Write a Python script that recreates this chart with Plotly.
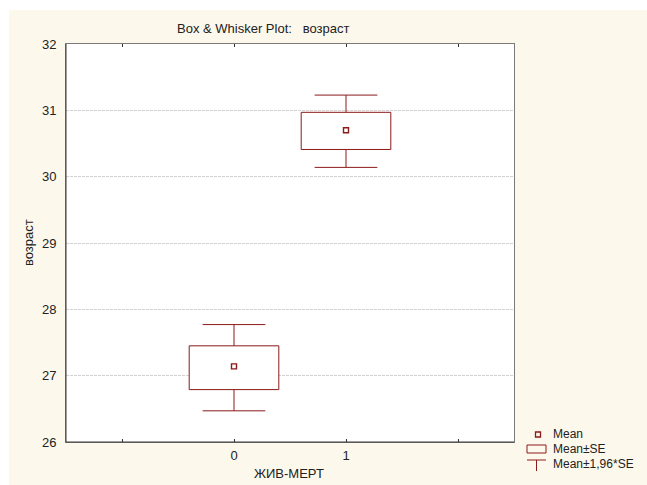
import plotly.graph_objects as go

# ---- data ----
categories = [0, 1]
means = [27.14, 30.70]
se_low = [26.79, 30.41]
se_high = [27.45, 30.97]
ci_low = [26.47, 30.14]
ci_high = [27.77, 31.23]
y_ticks = [26, 27, 28, 29, 30, 31, 32]
x_tickvals = [-1, 0, 1, 2]
x_ticktext = ["", "0", "1", ""]

RED = "#8b1a1a"
CREAM = "#fdf8ec"
FONT = "Liberation Sans, Arial, sans-serif"
TXT = "#222"
BOX_W = 0.8
CAP_HALF = 0.28

W, H = 647, 485
L, R, T, B = 66, 133, 44, 43
PW, PH = W - L - R, H - T - B


def px(p):
    return (p - L) / PW


def py(p):
    return (H - B - p) / PH


fig = go.Figure()

# Mean ± SE box
fig.add_trace(go.Bar(
    x=categories,
    y=[h - l for h, l in zip(se_high, se_low)],
    base=se_low,
    width=BOX_W,
    marker=dict(color="white", line=dict(color=RED, width=1)),
    showlegend=False,
    hoverinfo="skip",
))

# whiskers (Mean ± 1.96*SE) built from the data
wx, wy = [], []
for c, sl, sh, cl, ch in zip(categories, se_low, se_high, ci_low, ci_high):
    wx += [c, c, None, c, c, None, c - CAP_HALF, c + CAP_HALF, None, c - CAP_HALF, c + CAP_HALF, None]
    wy += [sh, ch, None, sl, cl, None, ch, ch, None, cl, cl, None]
fig.add_trace(go.Scatter(
    x=wx, y=wy, mode="lines",
    line=dict(color=RED, width=1),
    showlegend=False, hoverinfo="skip",
))

fig.add_trace(go.Scatter(
    x=categories,
    y=means,
    mode="markers",
    marker=dict(symbol="square-open", size=5, color=RED, line=dict(color=RED, width=1.4)),
    showlegend=False,
    hoverinfo="skip",
))

shapes = [
    dict(type="rect", xref="paper", yref="paper", x0=px(0), x1=px(9), y0=py(H), y1=py(0),
         fillcolor="white", line=dict(width=0), layer="below"),
    dict(type="rect", xref="paper", yref="paper", x0=px(0), x1=px(W), y0=py(10), y1=py(0),
         fillcolor="white", line=dict(width=0), layer="below"),
    dict(type="line", xref="paper", yref="paper", x0=0, x1=0, y0=0, y1=1,
         line=dict(color="#3a3a3a", width=1), layer="above"),
    dict(type="line", xref="paper", yref="paper", x0=0, x1=1, y0=0, y1=0,
         line=dict(color="#3a3a3a", width=1), layer="above"),
    # legend icons
    dict(type="rect", xref="paper", yref="paper", x0=px(535.5), x1=px(540.5), y0=py(437), y1=py(432),
         fillcolor="rgba(0,0,0,0)", line=dict(color=RED, width=1.3)),
    dict(type="rect", xref="paper", yref="paper", x0=px(527), x1=px(546), y0=py(453), y1=py(445),
         fillcolor="rgba(0,0,0,0)", line=dict(color=RED, width=1)),
    dict(type="line", xref="paper", yref="paper", x0=px(527), x1=px(546), y0=py(460), y1=py(460),
         line=dict(color=RED, width=1)),
    dict(type="line", xref="paper", yref="paper", x0=px(536.5), x1=px(536.5), y0=py(460), y1=py(471),
         line=dict(color=RED, width=1)),
]

NB = "\u00a0"
annotations = [
    dict(text="Box & Whisker Plot:" + NB * 3 + "возраст", xref="paper", yref="paper",
         x=px(175), y=py(28), xanchor="left", yanchor="middle", showarrow=False,
         font=dict(family=FONT, size=13, color=TXT)),
    dict(text="возраст", xref="paper", yref="paper", textangle=-90,
         x=px(28), y=py(243), xanchor="center", yanchor="middle", showarrow=False,
         font=dict(family=FONT, size=13, color=TXT)),
    dict(text="ЖИВ-МЕРТ", xref="paper", yref="paper",
         x=px(289), y=py(474), xanchor="center", yanchor="middle", showarrow=False,
         font=dict(family=FONT, size=13, color=TXT)),
    dict(text="Mean", xref="paper", yref="paper",
         x=px(551), y=py(434), xanchor="left", yanchor="middle", showarrow=False,
         font=dict(family=FONT, size=12, color=TXT)),
    dict(text="Mean±SE", xref="paper", yref="paper",
         x=px(551), y=py(449), xanchor="left", yanchor="middle", showarrow=False,
         font=dict(family=FONT, size=12, color=TXT)),
    dict(text="Mean±1,96*SE", xref="paper", yref="paper",
         x=px(551), y=py(464), xanchor="left", yanchor="middle", showarrow=False,
         font=dict(family=FONT, size=12, color=TXT)),
]

fig.update_layout(
    width=W, height=H,
    margin=dict(l=L, r=R, t=T, b=B, pad=0),
    paper_bgcolor=CREAM,
    plot_bgcolor="white",
    font=dict(family=FONT, size=13, color=TXT),
    showlegend=False,
    shapes=shapes,
    annotations=annotations,
    barmode="overlay",
    xaxis=dict(
        range=[-1.5, 2.5],
        tickmode="array", tickvals=x_tickvals, ticktext=x_ticktext,
        ticks="inside", ticklen=3, tickcolor="#333", tickwidth=1,
        showline=True, linecolor="#7a7a7a", linewidth=1, mirror="ticks",
        showgrid=False, zeroline=False,
        ticklabelstandoff=1,
        tickfont=dict(family=FONT, size=13, color=TXT),
    ),
    yaxis=dict(
        range=[26, 32],
        tickmode="array", tickvals=y_ticks,
        ticks="",
        showline=True, linecolor="#7a7a7a", linewidth=1, mirror=True,
        showgrid=True, gridcolor="#d2d2d2", gridwidth=1, griddash="3px,1px",
        zeroline=False,
        ticklabelstandoff=6,
        tickfont=dict(family=FONT, size=13, color=TXT),
    ),
)

fig.write_html("out.html")
